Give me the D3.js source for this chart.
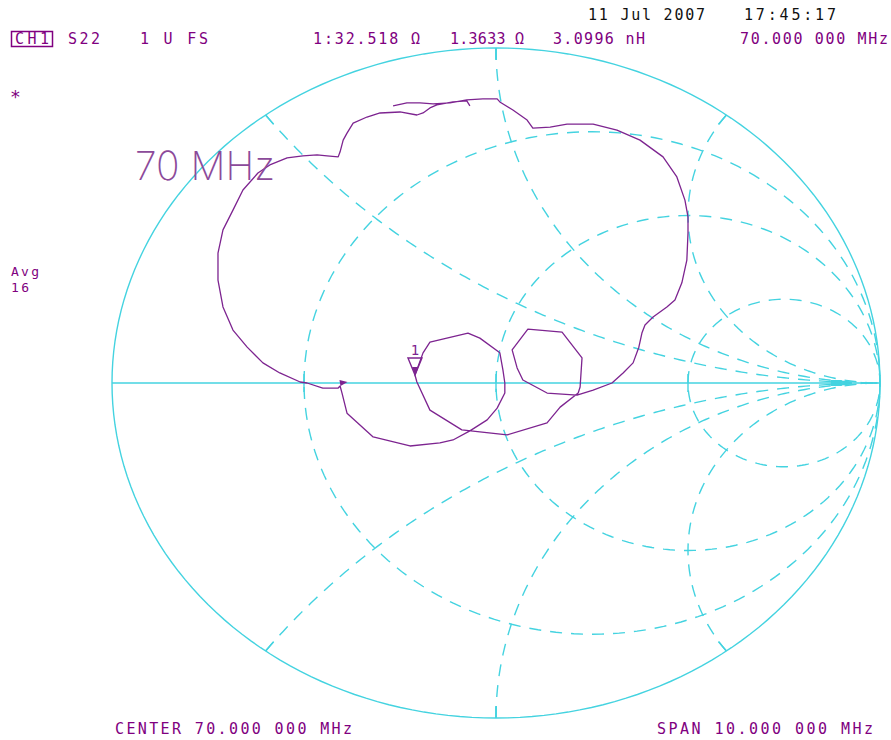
<!DOCTYPE html>
<html>
<head>
<meta charset="utf-8">
<script src="https://cdn.jsdelivr.net/npm/d3@7"></script>
<style>
  body { margin: 0; background: #fff; }
  svg { display: block; }
</style>
</head>
<body>
<div id="plot"></div>
<script>
// smith chart grid (normalized impedance)
const resistances = [1 / 3, 1, 3];
const reactances = [0.5, 1, 2, -0.5, -1, -2];

// S22 trace, reflection coefficient
const traceRe = [-0.268, -0.232, -0.198, -0.164, -0.120, -0.076, -0.034, 0.003, 0.010, 0.044,
    0.081, 0.096, 0.141, 0.185, 0.253, 0.315, 0.375, 0.435, 0.471, 0.492,
    0.500, 0.500, 0.497, 0.484, 0.466, 0.445, 0.409, 0.388, 0.380, 0.372,
    0.357, 0.331, 0.302, 0.253, 0.211, 0.133, 0.070, 0.055, 0.042, 0.083,
    0.172, 0.224, 0.219, 0.214, 0.167, 0.133, 0.029, -0.042, -0.089, -0.172,
    -0.206, -0.211, -0.190, -0.172, -0.073, -0.042, 0.010, 0.018, 0.023, 0.023,
    0.003, -0.023, -0.068, -0.112, -0.146, -0.224, -0.320, -0.388, -0.401, -0.406,
    -0.411, -0.451, -0.492, -0.510, -0.563, -0.607, -0.648, -0.685, -0.711, -0.724,
    -0.724, -0.711, -0.685, -0.659, -0.620, -0.589, -0.544, -0.503, -0.466, -0.440,
    -0.411, -0.406, -0.398, -0.388, -0.372, -0.336, -0.302, -0.250, -0.206, -0.190,
    -0.172, -0.154, -0.112, -0.076, -0.068];
const traceIm = [0.827, 0.836, 0.836, 0.833, 0.836, 0.845, 0.848, 0.848, 0.839, 0.815,
    0.785, 0.761, 0.764, 0.773, 0.773, 0.755, 0.725, 0.675, 0.615, 0.546,
    0.496, 0.448, 0.367, 0.299, 0.248, 0.227, 0.197, 0.173, 0.149, 0.107,
    0.060, 0.030, 0.000, -0.021, -0.036, -0.030, 0.009, 0.045, 0.099, 0.161,
    0.152, 0.075, -0.012, -0.030, -0.072, -0.119, -0.155, -0.146, -0.140, -0.081,
    0.003, 0.024, 0.090, 0.122, 0.149, 0.134, 0.090, 0.039, 0.000, -0.030,
    -0.075, -0.110, -0.143, -0.170, -0.179, -0.188, -0.161, -0.090, -0.030, -0.009,
    -0.015, -0.015, 0.000, 0.003, 0.030, 0.060, 0.107, 0.158, 0.227, 0.307,
    0.388, 0.457, 0.516, 0.576, 0.627, 0.651, 0.672, 0.678, 0.681, 0.678,
    0.675, 0.690, 0.725, 0.746, 0.776, 0.794, 0.806, 0.809, 0.800, 0.806,
    0.821, 0.830, 0.839, 0.842, 0.827];

// marker 1 and the small sweep arrow
const markerRe = -0.211, markerIm = 0.024;
const arrowRe = -0.392, arrowIm = 0.0;

const width = 891, height = 740;
const cyan = "#44d3e0", purple = "#800080", tracePurple = "#7d2490";

const svg = d3.select("#plot")
    .append("svg")
    .attr("width", width)
    .attr("height", height);

const x = d3.scaleLinear().domain([-1, 1]).range([112, 880]);
const y = d3.scaleLinear().domain([-1, 1]).range([718, 48]);

const line = d3.line()
    .x(d => x(d[0]))
    .y(d => y(d[1]));

function arcPts(cx, cy, r, a0, a1) {
    return d3.range(0, 201).map(i => {
        let a = a0 + (a1 - a0) * i / 200;
        return [cx + r * Math.cos(a), cy + r * Math.sin(a)];
    });
}

const grid = svg.append("g")
    .attr("fill", "none")
    .attr("stroke", cyan)
    .attr("stroke-width", 1.4);

// resistance circles
grid.selectAll(".rcircle")
    .data(resistances)
    .enter()
    .append("path")
    .attr("class", "rcircle")
    .attr("stroke-dasharray", "12,9")
    .attr("d", r => line(arcPts(r / (1 + r), 0, 1 / (1 + r), Math.PI, -Math.PI)));

// reactance arcs
grid.selectAll(".xarc")
    .data(reactances)
    .enter()
    .append("path")
    .attr("class", "xarc")
    .attr("stroke-dasharray", "12,9")
    .attr("d", xv => {
        let px = (xv * xv - 1) / (xv * xv + 1), py = 2 * xv / (xv * xv + 1);
        let cy = 1 / xv, r = Math.abs(1 / xv);
        let a0 = Math.atan2(py - cy, px - 1);
        let a1 = xv > 0 ? -Math.PI / 2 : Math.PI / 2;
        if (xv > 0 && a0 > a1) a1 += 2 * Math.PI;
        if (xv < 0 && a0 < a1) a1 -= 2 * Math.PI;
        return line(arcPts(1, cy, r, a0, a1));
    });

// outer circle and real axis
grid.append("path")
    .attr("d", line(arcPts(0, 0, 1, 0, 2 * Math.PI)));
grid.append("path")
    .attr("d", line([[-1, 0], [1, 0]]));

// ticks where the grid meets the axis and the rim
resistances.forEach(r => {
    let g0 = (r - 1) / (r + 1);
    grid.append("line")
        .attr("x1", x(g0)).attr("x2", x(g0))
        .attr("y1", y(0) - 9).attr("y2", y(0) + 9);
});
reactances.concat([1e9, -1e9]).forEach(xv => {
    let px = (xv * xv - 1) / (xv * xv + 1), py = 2 * xv / (xv * xv + 1);
    if (Math.abs(xv) > 1e6) { px = 0; py = Math.sign(xv); }
    grid.append("line")
        .attr("x1", x(px)).attr("y1", y(py))
        .attr("x2", x(px * 0.965)).attr("y2", y(py * 0.965));
});

// reference blob near the right edge
svg.append("rect")
    .attr("x", x(0.885) - 5).attr("y", y(0) - 3)
    .attr("width", 11).attr("height", 6)
    .attr("fill", cyan);

// trace
const pts = traceRe.map((d, i) => [d, traceIm[i]]);
svg.append("path")
    .datum(pts)
    .attr("fill", "none")
    .attr("stroke", tracePurple)
    .attr("stroke-width", 1.3)
    .attr("stroke-linejoin", "round")
    .attr("d", line);

// small arrow on the trace
const ax = x(arrowRe), ay = y(arrowIm);
svg.append("path")
    .attr("d", `M${ax - 6},${ay - 3}L${ax + 2},${ay - 1}L${ax - 5},${ay + 3}Z`)
    .attr("fill", tracePurple);

// marker 1
const mx = x(markerRe), my = y(markerIm);
svg.append("path")
    .attr("d", `M${mx - 7},${my - 17}L${mx + 7},${my - 17}L${mx},${my}Z`)
    .attr("fill", "none")
    .attr("stroke", tracePurple)
    .attr("stroke-width", 1.4);
svg.append("path")
    .attr("d", `M${mx - 3},${my - 8}L${mx + 3},${my - 8}L${mx},${my}Z`)
    .attr("fill", tracePurple);
svg.append("text")
    .attr("x", mx).attr("y", my - 20)
    .attr("text-anchor", "middle")
    .attr("font-family", "DejaVu Sans Mono")
    .attr("font-size", 14)
    .attr("fill", tracePurple)
    .text("1");

// annotations
function label(txt, x0, y0, len, color, size) {
    svg.append("text")
        .attr("x", x0).attr("y", y0)
        .attr("font-family", "DejaVu Sans Mono")
        .attr("font-size", size || 15)
        .attr("fill", color || purple)
        .attr("textLength", len)
        .attr("lengthAdjust", "spacing")
        .text(txt);
}

label("11 Jul 2007", 588, 20, 117, "#111");
label("17:45:17", 744, 20, 92, "#111");

svg.append("rect")
    .attr("x", 11.5).attr("y", 31.5)
    .attr("width", 41).attr("height", 15)
    .attr("fill", "none")
    .attr("stroke", purple)
    .attr("stroke-width", 1.5);
label("CH1", 15, 44, 34);
label("S22", 68, 44, 32);
label("1 U FS", 140, 44, 68);
label("1:32.518 \u03a9", 313, 44, 107);
label("1.3633 \u03a9", 450, 44, 74);
label("3.0996 nH", 553, 44, 92);
label("70.000 000 MHz", 740, 44, 148);
label("*", 10, 103, 10, purple, 18);
label("Avg", 11, 276, 28, purple, 13);
label("16", 11, 292, 18, purple, 13);
label("CENTER  70.000 000 MHz", 115, 734, 237);
label("SPAN  10.000 000 MHz", 657, 734, 216);

svg.append("text")
    .attr("x", 135).attr("y", 180)
    .attr("font-family", "Inter, Lato, sans-serif")
    .attr("font-weight", 200)
    .attr("font-size", 40)
    .attr("fill", "#8c4a9a")
    .attr("textLength", 140)
    .attr("lengthAdjust", "spacingAndGlyphs")
    .text("70 MHz");
</script>
</body>
</html>
